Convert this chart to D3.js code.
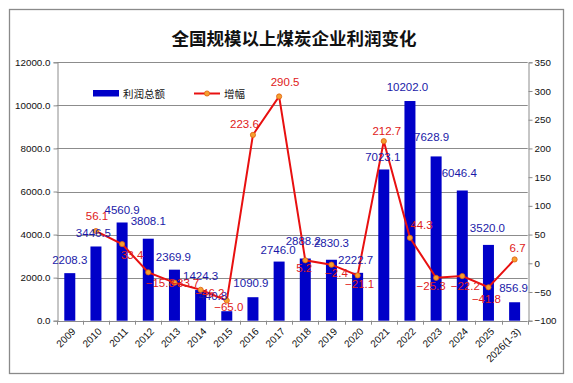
<!DOCTYPE html>
<html><head><meta charset="utf-8">
<script src="https://cdn.jsdelivr.net/npm/d3@7"></script>
<style>
html,body{margin:0;padding:0;background:#fff;}
svg{display:block;}
</style></head>
<body><svg id="chart" width="573" height="383"></svg>
<script>
// ---- data ----
const categories = ["2009","2010","2011","2012","2013","2014","2015","2016","2017","2018","2019","2020","2021","2022","2023","2024","2025","2026(1-3)"];
const profit = [2208.3,3446.5,4560.9,3808.1,2369.9,1424.3,440.8,1090.9,2746.0,2888.2,2830.3,2222.7,7023.1,10202.0,7628.9,6046.4,3520.0,856.9];
const growth = [null,56.1,33.4,-15.8,-33.7,-46.2,-65.0,223.6,290.5,5.2,-2.4,-21.1,212.7,44.3,-25.3,-22.2,-41.8,6.7];
const leftTicks = [0,2000,4000,6000,8000,10000,12000];
const rightTicks = [-100,-50,0,50,100,150,200,250,300,350];
const title = "全国规模以上煤炭企业利润变化";
const seriesNames = ["利润总额","增幅"];

// ---- label placement (layout only) ----
const barLabelDx = [0,-2.5,0,0,-1,0,-14,-2,-1,-2,0,-2,-1,-2.5,-4.5,-3,-1,-1];
const barLabelDy = [13,13,12.5,18,13,14,15.5,14,12,18,16.5,13,12,14,19,18,16.5,14];
const lineLabelDx = [0,1,10,12,10.5,9.3,2,-8.5,6,-1,5,2,3,11.5,-5,3,-2,3];
const lineLabelDy = [0,-15,11,11,0.6,3.5,6,-11,-14,7.4,8.6,8.6,-10.5,-13,8,10,12,-11];

const svg = d3.select("#chart");
const L = 56.7, R = 527.7, T = 62.3, B = 320.7;
const x = d3.scaleBand().domain(categories).range([L, R]);
const yL = d3.scaleLinear().domain([0, 12000]).range([B, T]);
const yR = d3.scaleLinear().domain([-100, 350]).range([B, T]);

const barColor = "#0000c8", lineColor = "#e81010", gridColor = "#8c8c8c";

// outer frame
svg.append("rect").attr("x",9.5).attr("y",9.5).attr("width",554).attr("height",364)
  .attr("fill","#fff").attr("stroke","#8a8a8a").attr("stroke-width",1.3);

// title
svg.append("text").attr("x",294).attr("y",45).attr("text-anchor","middle")
  .attr("font-family","'Noto Sans CJK SC',sans-serif").attr("font-weight","bold")
  .attr("font-size",17.5).attr("fill","#111").text(title);

// gridlines
svg.append("g").selectAll("line").data(leftTicks).join("line")
  .attr("x1",L).attr("x2",R)
  .attr("y1",d=>Math.round(yL(d))+0.5).attr("y2",d=>Math.round(yL(d))+0.5)
  .attr("stroke",gridColor).attr("stroke-width",1);

// left axis
const gl = svg.append("g").attr("transform",`translate(${Math.round(L)+0.5},0)`)
  .call(d3.axisLeft(yL).tickValues(leftTicks).tickFormat(d3.format(".1f")).tickSize(4).tickPadding(3));
// right axis
const gr = svg.append("g").attr("transform",`translate(${Math.round(R)+0.5},0)`)
  .call(d3.axisRight(yR).tickValues(rightTicks).tickFormat(d3.format("d")).tickSize(4).tickPadding(2));
[gl,gr].forEach(g=>{
  g.select(".domain").attr("stroke",gridColor);
  g.selectAll(".tick line").attr("stroke",gridColor);
  g.selectAll(".tick text").attr("font-family","'Liberation Sans',Arial,sans-serif")
    .attr("font-size",9.8).attr("fill","#111");
});

// x axis ticks at category boundaries
const bounds = categories.map(c=>x(c)).concat([R]);
svg.append("g").selectAll("line").data(bounds).join("line")
  .attr("x1",d=>Math.round(d)+0.5).attr("x2",d=>Math.round(d)+0.5)
  .attr("y1",B).attr("y2",B+4).attr("stroke",gridColor);
svg.append("g").selectAll("text").data(categories).join("text")
  .attr("transform",d=>`translate(${x(d)+x.bandwidth()/2+4},${B+9}) rotate(-45)`)
  .attr("text-anchor","end").attr("dominant-baseline","central")
  .attr("font-family","'Liberation Sans',Arial,sans-serif").attr("font-size",10)
  .attr("fill","#111").text(d=>d);

// bars
const bw = 11;
svg.append("g").selectAll("rect").data(profit).join("rect")
  .attr("x",(d,i)=>x(categories[i])+x.bandwidth()/2-bw/2)
  .attr("width",bw)
  .attr("y",d=>yL(d)).attr("height",d=>yL(0)-yL(d))
  .attr("fill",barColor);

// line
const pts = growth.map((g,i)=>({c:categories[i],v:g,i})).filter(d=>d.v!==null);
const line = d3.line().x(d=>x(d.c)+x.bandwidth()/2).y(d=>yR(d.v));
svg.append("path").datum(pts).attr("d",line).attr("fill","none")
  .attr("stroke",lineColor).attr("stroke-width",2);
svg.append("g").selectAll("circle").data(pts).join("circle")
  .attr("cx",d=>x(d.c)+x.bandwidth()/2).attr("cy",d=>yR(d.v)).attr("r",2.6)
  .attr("fill","#f5a030").attr("stroke","#e06010").attr("stroke-width",0.8);

// bar labels
svg.append("g").selectAll("text").data(profit).join("text")
  .attr("x",(d,i)=>x(categories[i])+x.bandwidth()/2+barLabelDx[i])
  .attr("y",(d,i)=>yL(d)-barLabelDy[i])
  .attr("text-anchor","middle").attr("dominant-baseline","central")
  .attr("font-family","'Liberation Sans',Arial,sans-serif").attr("font-size",11.5)
  .attr("fill","#1a1aa8").text(d=>d3.format(".1f")(d));

// line labels
svg.append("g").selectAll("text").data(pts).join("text")
  .attr("x",d=>x(d.c)+x.bandwidth()/2+lineLabelDx[d.i])
  .attr("y",d=>yR(d.v)+lineLabelDy[d.i])
  .attr("text-anchor","middle").attr("dominant-baseline","central")
  .attr("font-family","'Liberation Sans',Arial,sans-serif").attr("font-size",11.5)
  .attr("fill","#e02020").text(d=>d3.format(".1f")(d.v));

// legend
const lg = svg.append("g");
lg.append("rect").attr("x",93).attr("y",90).attr("width",26).attr("height",6.5).attr("fill",barColor);
lg.append("text").attr("x",123).attr("y",93.5).attr("dominant-baseline","central")
  .attr("font-family","'Noto Sans CJK SC',sans-serif").attr("font-size",10.5).attr("fill","#111").text(seriesNames[0]);
lg.append("line").attr("x1",194).attr("x2",220).attr("y1",93.5).attr("y2",93.5)
  .attr("stroke",lineColor).attr("stroke-width",2);
lg.append("circle").attr("cx",207).attr("cy",93.5).attr("r",2.6)
  .attr("fill","#f5a030").attr("stroke","#e06010").attr("stroke-width",0.8);
lg.append("text").attr("x",224).attr("y",93.5).attr("dominant-baseline","central")
  .attr("font-family","'Noto Sans CJK SC',sans-serif").attr("font-size",10.5).attr("fill","#111").text(seriesNames[1]);
</script>
</body></html>
